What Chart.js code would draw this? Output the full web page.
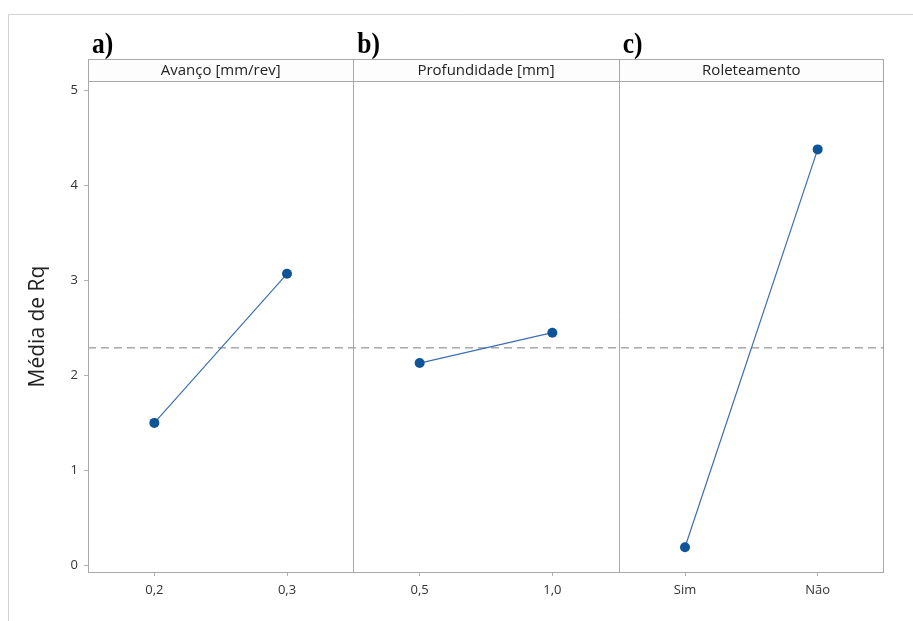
<!DOCTYPE html>
<html>
<head>
<meta charset="utf-8">
<script src="https://cdn.jsdelivr.net/npm/chart.js@4.4.1/dist/chart.umd.min.js"></script>
<style>
  html, body { margin: 0; padding: 0; background: #ffffff; }
  #wrap { position: relative; width: 913px; height: 621px; }
</style>
</head>
<body>
<div id="wrap"><canvas id="c" width="913" height="621"></canvas></div>
<script>
// ---- data ----
const panelTitles = ['Avanço [mm/rev]', 'Profundidade [mm]', 'Roleteamento'];
const panelLetters = ['a)', 'b)', 'c)'];
const avancoLevels = ['0,2', '0,3'];
const profundidadeLevels = ['0,5', '1,0'];
const roleteamentoLevels = ['Sim', 'Não'];
const avancoMeans = [1.50, 3.07];
const profundidadeMeans = [2.13, 2.45];
const roleteamentoMeans = [0.19, 4.38];
const overallMean = 2.29;
const yTickValues = [0, 1, 2, 3, 4, 5];
const yAxisTitle = 'Média de Rq';

// ---- build ----
const panelLevels = [avancoLevels, profundidadeLevels, roleteamentoLevels];
const panelMeans = [avancoMeans, profundidadeMeans, roleteamentoMeans];
const xTickLabels = panelLevels.flat();
const nPanels = panelLevels.length;
const perPanel = 2;
const xMax = nPanels * perPanel;

const lineColor = '#3d6fae';
const pointColor = '#0f5497';
const FONT = '"Open Sans", "Noto Sans", sans-serif';

const datasets = panelMeans.map((vals, p) => ({
  data: vals.map((v, i) => ({ x: p * perPanel + 0.5 + i, y: v })),
  borderColor: lineColor,
  borderWidth: 1.2,
  pointRadius: 5,
  pointBackgroundColor: pointColor,
  pointBorderColor: pointColor,
  pointBorderWidth: 0,
  showLine: true,
  tension: 0,
  order: 1
}));
datasets.push({
  data: [{ x: 0, y: overallMean }, { x: xMax, y: overallMean }],
  borderColor: '#7c7c7c',
  borderWidth: 1,
  borderDash: [8, 5],
  pointRadius: 0,
  showLine: true,
  order: 2
});

const frame = {
  id: 'frame',
  afterDraw(chart) {
    const { ctx, chartArea: a, scales: { x } } = chart;
    ctx.save();
    // outer frame
    ctx.strokeStyle = '#d2d2d2';
    ctx.lineWidth = 1;
    ctx.beginPath();
    ctx.moveTo(8.5, 621); ctx.lineTo(8.5, 14.5); ctx.lineTo(913, 14.5);
    ctx.stroke();
    // chart area box
    ctx.strokeStyle = '#a8a8a8';
    ctx.strokeRect(a.left + 0.5, a.top + 0.5, a.right - a.left - 1, a.bottom - a.top);
    // header strip
    const hTop = 59, hBot = a.top;
    ctx.fillStyle = '#fdfdfd';
    ctx.fillRect(a.left, hTop, a.right - a.left, hBot - hTop);
    ctx.strokeStyle = '#a8a8a8';
    ctx.strokeRect(a.left + 0.5, hTop + 0.5, a.right - a.left - 1, hBot - hTop);
    // dividers
    for (let p = 1; p < nPanels; p++) {
      const px = Math.round(x.getPixelForValue(p * perPanel)) + 0.5;
      ctx.beginPath();
      ctx.moveTo(px, hTop); ctx.lineTo(px, a.bottom);
      ctx.stroke();
    }
    // header titles and letters
    for (let p = 0; p < nPanels; p++) {
      const l = x.getPixelForValue(p * perPanel);
      const r = x.getPixelForValue((p + 1) * perPanel);
      ctx.fillStyle = '#222';
      ctx.font = '15px ' + FONT;
      ctx.textAlign = 'center';
      ctx.textBaseline = 'middle';
      ctx.fillText(panelTitles[p], (l + r) / 2, (hTop + hBot) / 2 + 1);
      ctx.save();
      ctx.fillStyle = '#000';
      ctx.font = 'bold 30px "Liberation Serif", "Times New Roman", serif';
      ctx.textAlign = 'left';
      ctx.textBaseline = 'alphabetic';
      ctx.translate(l + 4, 53);
      ctx.scale(0.85, 1);
      ctx.fillText(panelLetters[p], 0, 0);
      ctx.restore();
    }
    ctx.restore();
  }
};

new Chart(document.getElementById('c'), {
  type: 'scatter',
  data: { datasets },
  options: {
    responsive: false,
    animation: false,
    devicePixelRatio: 1,
    layout: { padding: { top: 81, right: 29, bottom: 9, left: 0 } },
    plugins: { legend: { display: false }, tooltip: { enabled: false } },
    scales: {
      x: {
        type: 'linear',
        min: 0,
        max: xMax,
        afterBuildTicks(scale) {
          scale.ticks = xTickLabels.map((_, i) => ({ value: i + 0.5 }));
        },
        afterFit(scale) { scale.height = 40; },
        ticks: {
          autoSkip: false,
          maxRotation: 0,
          padding: 6,
          color: '#333',
          font: { family: FONT, size: 13 },
          callback: (v) => xTickLabels[Math.round(v - 0.5)]
        },
        grid: { drawOnChartArea: false, drawTicks: true, tickLength: 4, color: '#b0b0b0' },
        border: { display: false }
      },
      y: {
        min: -0.07,
        max: 5.1,
        afterBuildTicks(scale) {
          scale.ticks = yTickValues.map(v => ({ value: v }));
        },
        afterFit(scale) { scale.width = 88; },
        ticks: {
          padding: 6,
          color: '#333',
          font: { family: FONT, size: 13 },
          callback: (v) => String(v)
        },
        grid: { drawOnChartArea: false, drawTicks: true, tickLength: 4, color: '#b0b0b0' },
        border: { display: false },
        title: {
          display: true,
          text: yAxisTitle,
          color: '#222',
          font: { family: FONT, size: 21 },
          padding: { top: 25, bottom: 0 }
        }
      }
    }
  },
  plugins: [frame]
});
</script>
</body>
</html>
